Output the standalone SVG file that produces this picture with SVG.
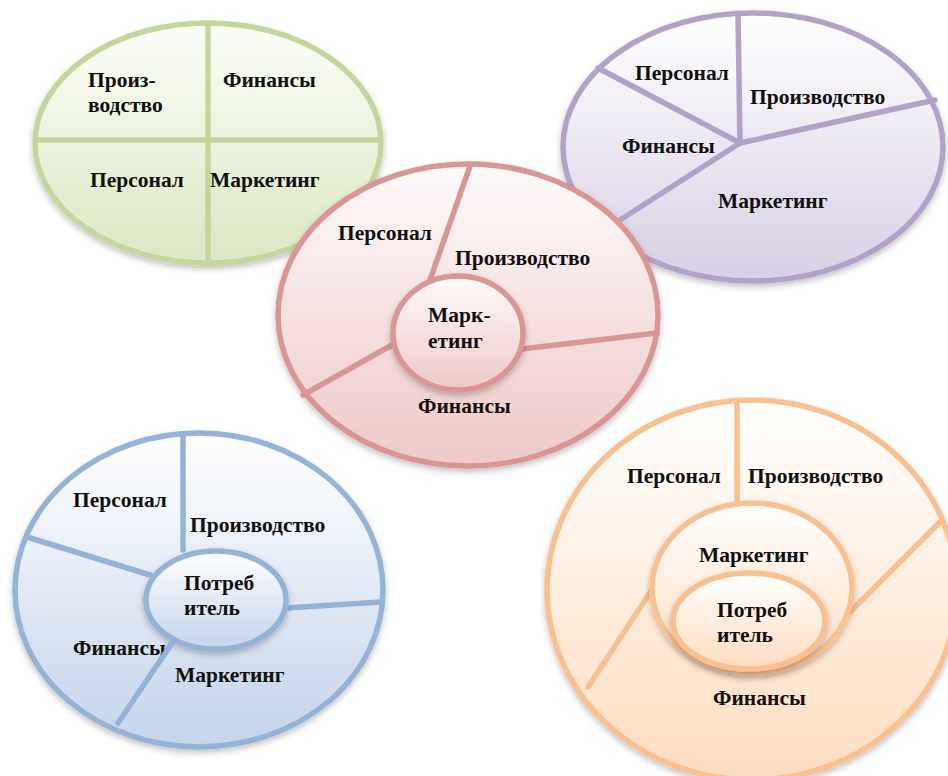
<svg xmlns="http://www.w3.org/2000/svg" width="948" height="776" viewBox="0 0 948 776">
<style>
text{font-family:"Liberation Serif","Times New Roman",serif;font-weight:bold;font-size:21.5px;fill:#111}
.g{stroke:#c3d69b}.p{stroke:#b3a2c7}.r{stroke:#d99694}.b{stroke:#95b3d7}.o{stroke:#fac090}
ellipse,line{stroke-width:5.5;stroke-linecap:round}
</style>
<defs>
<linearGradient id="gg" x1="0" y1="0" x2="0" y2="1"><stop offset="0" stop-color="#fbfdf7"/><stop offset="1" stop-color="#dbe7c4"/></linearGradient>
<linearGradient id="gp" x1="0" y1="0" x2="0" y2="1"><stop offset="0" stop-color="#ffffff"/><stop offset="1" stop-color="#d8cfe5"/></linearGradient>
<linearGradient id="gr" x1="0" y1="0" x2="0" y2="1"><stop offset="0" stop-color="#fefafa"/><stop offset="1" stop-color="#edc9c8"/></linearGradient>
<linearGradient id="gb" x1="0" y1="0" x2="0" y2="1"><stop offset="0" stop-color="#ffffff"/><stop offset="1" stop-color="#c4d4ea"/></linearGradient>
<linearGradient id="go" x1="0" y1="0" x2="0" y2="1"><stop offset="0" stop-color="#ffffff"/><stop offset="1" stop-color="#fddcc0"/></linearGradient>
<filter id="sh" x="-10%" y="-10%" width="120%" height="125%"><feDropShadow dx="0" dy="3" stdDeviation="3" flood-color="#000" flood-opacity="0.25"/></filter>
</defs>
<rect width="948" height="776" fill="#fff"/>

<g id="green">
<ellipse class="g" cx="208" cy="143" rx="173" ry="120" fill="url(#gg)" filter="url(#sh)"/>
<g id="green-connectors">
<line class="g" x1="208" y1="24" x2="208" y2="262"/>
<line class="g" x1="36" y1="140" x2="380" y2="140"/>
</g>
<text x="88" y="87">Произ-</text>
<text x="88" y="112">водство</text>
<text x="223" y="87">Финансы</text>
<text x="90" y="187">Персонал</text>
<text x="210" y="187">Маркетинг</text>
</g>

<g id="purple">
<ellipse class="p" cx="753" cy="147" rx="190" ry="134" fill="url(#gp)" filter="url(#sh)"/>
<g id="purple-connectors">
<line class="p" x1="740" y1="143" x2="738" y2="14"/>
<line class="p" x1="740" y1="143" x2="598" y2="68"/>
<line class="p" x1="740" y1="143" x2="935" y2="100"/>
<line class="p" x1="740" y1="143" x2="620" y2="220"/>
</g>
<text x="635" y="80">Персонал</text>
<text x="750" y="104">Производство</text>
<text x="622" y="153">Финансы</text>
<text x="718" y="208">Маркетинг</text>
</g>

<g id="blue">
<ellipse class="b" cx="199" cy="590" rx="184" ry="157" fill="url(#gb)" filter="url(#sh)"/>
<g id="blue-connectors">
<line class="b" x1="183" y1="550" x2="183" y2="435"/>
<line class="b" x1="150" y1="575" x2="27" y2="537"/>
<line class="b" x1="286" y1="608" x2="381" y2="602"/>
<line class="b" x1="172" y1="643" x2="118" y2="723"/>
</g>
<ellipse class="b" cx="216" cy="600" rx="70" ry="49" fill="url(#gb)" filter="url(#sh)"/>
<text x="73" y="507">Персонал</text>
<text x="190" y="532">Производство</text>
<text x="184" y="590">Потреб</text>
<text x="184" y="615">итель</text>
<text x="73" y="655">Финансы</text>
<line class="b" x1="172" y1="643" x2="160" y2="661"/>
<text x="175" y="682">Маркетинг</text>
</g>

<g id="orange">
<ellipse class="o" cx="752" cy="590" rx="205" ry="190" fill="url(#go)" filter="url(#sh)"/>
<g id="orange-connectors">
<line class="o" x1="737" y1="505" x2="737" y2="401"/>
<line class="o" x1="850" y1="612" x2="940" y2="522"/>
<line class="o" x1="653" y1="588" x2="588" y2="687"/>
</g>
<ellipse class="o" cx="752" cy="588" rx="100" ry="85" fill="url(#go)" filter="url(#sh)"/>
<ellipse class="o" cx="749" cy="621" rx="76" ry="48" fill="url(#go)" filter="url(#sh)"/>
<text x="627" y="483">Персонал</text>
<text x="748" y="483">Производство</text>
<text x="699" y="562">Маркетинг</text>
<text x="717" y="617">Потреб</text>
<text x="717" y="642">итель</text>
<text x="713" y="705">Финансы</text>
</g>

<g id="pink">
<ellipse class="r" cx="468" cy="315" rx="190" ry="151" fill="url(#gr)" filter="url(#sh)"/>
<g id="pink-connectors">
<line class="r" x1="430" y1="280" x2="470" y2="166"/>
<line class="r" x1="522" y1="349" x2="657" y2="333"/>
<line class="r" x1="392" y1="345" x2="303" y2="395"/>
</g>
<ellipse class="r" cx="458" cy="333" rx="65" ry="57" fill="url(#gr)" filter="url(#sh)"/>
<text x="338" y="240">Персонал</text>
<text x="455" y="265">Производство</text>
<text x="428" y="322">Марк-</text>
<text x="428" y="348">етинг</text>
<text x="418" y="413">Финансы</text>
</g>
</svg>
